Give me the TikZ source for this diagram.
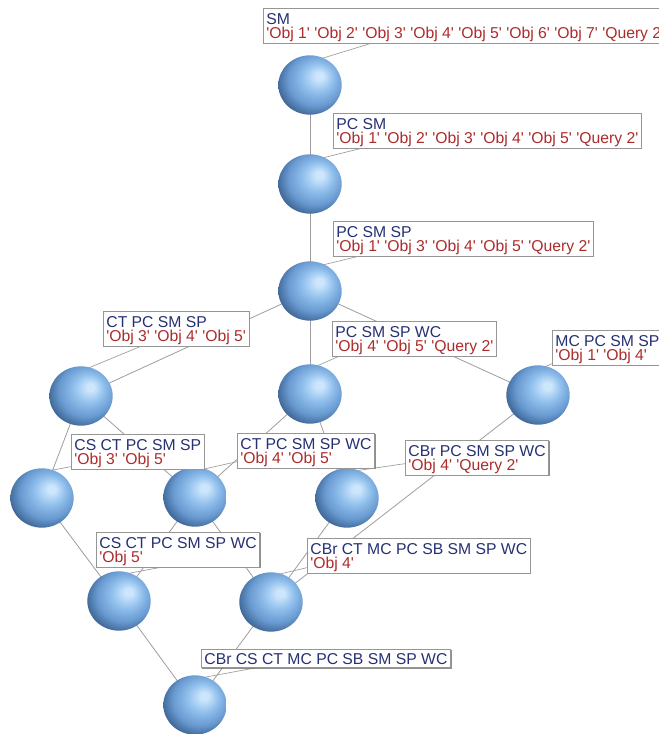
\documentclass[tikz,border=0pt]{standalone}
\usepackage{fontspec}
\newfontfamily\labfont{Liberation Sans}
\usetikzlibrary{shapes.geometric,calc,shadows,backgrounds}
\definecolor{labblue}{RGB}{38,48,115}
\definecolor{labred}{RGB}{172,44,44}
\definecolor{edgegray}{RGB}{158,158,158}
\definecolor{boxgray}{RGB}{150,150,150}
\definecolor{sHi}{RGB}{205,230,252}
\definecolor{sMid}{RGB}{145,192,237}
\definecolor{sBody}{RGB}{104,153,208}
\definecolor{sDark}{RGB}{44,80,124}
\pgfdeclareradialshading{sphereshade}{\pgfpoint{8bp}{8bp}}{color(0bp)=(sHi); color(3bp)=(sHi); color(12bp)=(sMid); color(22bp)=(sBody); color(33bp)=(sDark); color(50bp)=(sDark)}
\newcommand\Q[1]{\textquotesingle#1\textquotesingle}
\newcommand\la[1]{\textcolor{labblue}{\rule{0pt}{11pt}#1}}
\newcommand\lb[1]{\textcolor{labred}{#1\rule[-2.2pt]{0pt}{0pt}}}
\begin{document}
\begin{tikzpicture}[x=0.75pt,y=-0.75pt,
  edge/.style={draw=edgegray, line width=0.6pt},
  leader/.style={draw=edgegray, line width=0.5pt},
  conceptball/.style={ellipse, inner sep=0pt, minimum width=47.5pt, minimum height=44.5pt, shade, shading=sphereshade},
  lab/.style={anchor=north west, fill=white, draw=boxgray, line width=0.5pt,
    inner xsep=2.3pt, inner ysep=1pt, align=left,
    font=\labfont\fontsize{11.8}{10.8}\selectfont,
    drop shadow={shadow xshift=0.8pt, shadow yshift=-0.8pt, fill=black!55, opacity=0.8}}]
\useasboundingbox (0,0) rectangle (659,734);
\clip (0,0) rectangle (659,734);

% spheres
\node[conceptball] (n1) at (310,85) {};
\node[conceptball] (n2) at (310,184) {};
\node[conceptball] (n3) at (310,291) {};
\node[conceptball] (n4) at (81,396) {};
\node[conceptball] (n5) at (310,394) {};
\node[conceptball] (n6) at (538,395) {};
\node[conceptball] (n7) at (42,498) {};
\node[conceptball] (n8) at (195,497) {};
\node[conceptball] (n9) at (347,498) {};
\node[conceptball] (n10) at (119,601) {};
\node[conceptball] (n11) at (271,602) {};
\node[conceptball] (n12) at (195,705) {};

% labels
\node[lab] (l1) at (263,8) {\la{SM}\\\lb{\Q{Obj 1} \Q{Obj 2} \Q{Obj 3} \Q{Obj 4} \Q{Obj 5} \Q{Obj 6} \Q{Obj 7} \Q{Query 2}}};
\node[lab] (l2) at (333,113) {\la{PC SM}\\\lb{\Q{Obj 1} \Q{Obj 2} \Q{Obj 3} \Q{Obj 4} \Q{Obj 5} \Q{Query 2}}};
\node[lab] (l3) at (333,221) {\la{PC SM SP}\\\lb{\Q{Obj 1} \Q{Obj 3} \Q{Obj 4} \Q{Obj 5} \Q{Query 2}}};
\node[lab] (l4) at (103,311) {\la{CT PC SM SP}\\\lb{\Q{Obj 3} \Q{Obj 4} \Q{Obj 5}}};
\node[lab] (l5) at (332,321) {\la{PC SM SP WC}\\\lb{\Q{Obj 4} \Q{Obj 5} \Q{Query 2}}};
\node[lab] (l6) at (552,330) {\la{MC PC SM SP}\\\lb{\Q{Obj 1} \Q{Obj 4}}};
\node[lab] (l7) at (71,434) {\la{CS CT PC SM SP}\\\lb{\Q{Obj 3} \Q{Obj 5}}};
\node[lab] (l8) at (237,433) {\la{CT PC SM SP WC}\\\lb{\Q{Obj 4} \Q{Obj 5}}};
\node[lab] (l9) at (405,440) {\la{CBr PC SM SP WC}\\\lb{\Q{Obj 4} \Q{Query 2}}};
\node[lab] (l10) at (96,532) {\la{CS CT PC SM SP WC}\\\lb{\Q{Obj 5}}};
\node[lab] (l11) at (307,538) {\la{CBr CT MC PC SB SM SP WC}\\\lb{\Q{Obj 4}}};
\node[lab] (l12) at (201,649) {\textcolor{labblue}{\rule{0pt}{10.2pt}CBr CS CT MC PC SB SM SP WC\rule[-1.5pt]{0pt}{0pt}}};

\begin{pgfonlayer}{background}
\fill[white] (0,0) rectangle (659,734);
% lattice edges
\draw[edge] (n1.center) -- (n2.center);
\draw[edge] (n2.center) -- (n3.center);
\draw[edge] (n3.center) -- (n4.center);
\draw[edge] (n3.center) -- (n5.center);
\draw[edge] (n3.center) -- (n6.center);
\draw[edge] (n4.center) -- (n7.center);
\draw[edge] (n4.center) -- (n8.center);
\draw[edge] (n5.center) -- (n8.center);
\draw[edge] (n5.center) -- (n9.center);
\draw[edge] (n6.center) -- (n11.center);
\draw[edge] (n7.center) -- (n10.center);
\draw[edge] (n8.center) -- (n10.center);
\draw[edge] (n8.center) -- (n11.center);
\draw[edge] (n9.center) -- (n11.center);
\draw[edge] (n10.center) -- (n12.center);
\draw[edge] (n11.center) -- (n12.center);
% label leaders
\draw[leader] ($(n1.north)+(0,7)$) -- ($(l1.south west)+(107,0)$);
\draw[leader] ($(n2.north)+(0,7)$) -- ($(l2.south west)+(27,0)$);
\draw[leader] ($(n3.north)+(0,7)$) -- ($(l3.south west)+(24,0)$);
\draw[leader] ($(n4.north)+(0,5)$) -- ($(l4.south west)+(37,0)$);
\draw[leader] ($(n5.north)+(0,5)$) -- ($(l5.south west)+(6,0)$);
\draw[leader] ($(n6.north)+(0,5)$) -- ($(l6.south west)+(0,-2)$);
\draw[leader] ($(n7.north)+(0,4)$) -- ($(l7.south west)+(0,-3)$);
\draw[leader] ($(n8.north)+(0,4)$) -- ($(l8.south west)+(0,-7)$);
\draw[leader] ($(n9.north)+(0,4)$) -- ($(l9.south west)+(0,-12)$);
\draw[leader] ($(n10.north)+(0,4)$) -- ($(l10.south west)+(63,0)$);
\draw[leader] ($(n11.north)+(0,4)$) -- ($(l11.south west)+(0,-6)$);
\draw[leader] ($(n12.north)+(0,4)$) -- ($(l12.south west)+(54,0)$);
\end{pgfonlayer}
\end{tikzpicture}
\end{document}
